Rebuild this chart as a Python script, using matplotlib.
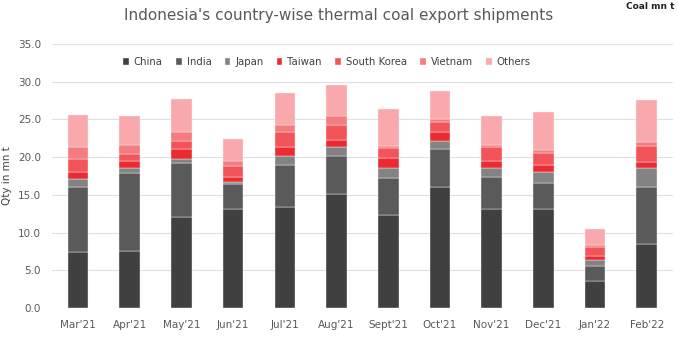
import matplotlib.pyplot as plt
import numpy as np

months = ["Mar'21", "Apr'21", "May'21", "Jun'21", "Jul'21", "Aug'21",
          "Sept'21", "Oct'21", "Nov'21", "Dec'21", "Jan'22", "Feb'22"]

china = [7.4, 7.6, 12.0, 13.1, 13.4, 15.1, 12.3, 16.0, 13.1, 13.1, 3.6, 8.5]
india = [8.6, 10.3, 7.2, 3.3, 5.6, 5.1, 4.9, 5.1, 4.3, 3.5, 1.9, 7.5]
japan = [1.1, 0.6, 0.5, 0.3, 1.1, 1.1, 1.4, 1.1, 1.2, 1.4, 0.9, 2.6]
taiwan = [0.9, 1.0, 1.4, 0.6, 1.2, 1.0, 1.3, 1.1, 0.9, 1.0, 0.5, 0.8]
south_korea = [1.8, 0.9, 1.0, 1.5, 2.0, 2.0, 1.3, 1.3, 1.8, 1.6, 1.2, 2.1]
vietnam = [1.5, 1.2, 1.2, 0.7, 1.0, 1.1, 0.3, 0.5, 0.3, 0.3, 0.2, 0.5]
others = [4.3, 3.9, 4.4, 2.9, 4.2, 4.2, 4.9, 3.7, 3.9, 5.1, 2.2, 5.6]

series = [("China", china, "#404040"),
          ("India", india, "#5a5a5a"),
          ("Japan", japan, "#838383"),
          ("Taiwan", taiwan, "#ec2a31"),
          ("South Korea", south_korea, "#f2545a"),
          ("Vietnam", vietnam, "#f47b7e"),
          ("Others", others, "#f9a9ab")]

fig = plt.figure(figsize=(6.78, 3.41), dpi=100)
ax = fig.add_axes([0.077, 0.097, 0.915, 0.774])

x = np.arange(len(months))
bottom = np.zeros(len(months))
for name, vals, col in series:
    ax.bar(x, vals, 0.4, bottom=bottom, color=col, label=name,
           edgecolor="#f2f2f2", linewidth=0.3, zorder=3)
    bottom += np.array(vals)

ax.set_xlim(-0.5, len(months) - 0.5)
ax.set_ylim(0, 35)
ax.set_yticks(np.arange(0, 36, 5))
ax.set_yticklabels(["%.1f" % v for v in np.arange(0, 36, 5)])
ax.set_xticks(x)
ax.set_xticklabels(months)
ax.tick_params(axis="both", length=0, labelsize=7.5, colors="#595959")
ax.tick_params(axis="x", pad=9)
ax.tick_params(axis="y", pad=8)
ax.grid(axis="y", color="#e0e0e0", linewidth=0.8, zorder=0)
for s in ax.spines.values():
    s.set_visible(False)

ax.set_ylabel("Qty in mn t", fontsize=7.5, color="#404040", labelpad=4)

ax.legend(loc="upper center", bbox_to_anchor=(0.443, 0.985), ncol=7, frameon=False,
          fontsize=7.3, labelcolor="#404040", handlelength=0.55, handleheight=0.6,
          columnspacing=1.3, handletextpad=0.5)

fig.text(0.5, 0.955, "Indonesia's country-wise thermal coal export shipments",
         ha="center", va="center", fontsize=11, color="#595959")
fig.text(0.995, 0.995, "Coal mn t", ha="right", va="top", fontsize=6.5,
         fontweight="bold", color="#222222")

fig.savefig("out.png", dpi=100)
